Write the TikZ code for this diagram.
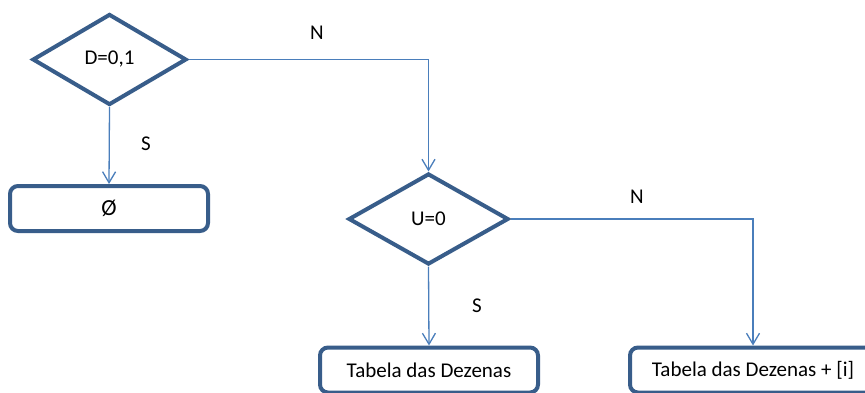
\documentclass[tikz,border=0pt]{standalone}
\usepackage{fontspec}
\setmainfont{Carlito}
\usetikzlibrary{shapes.geometric,arrows.meta}
\definecolor{shapeline}{HTML}{385D8A}
\definecolor{linkline}{HTML}{4A7EBB}
\begin{document}
\begin{tikzpicture}[x=1pt,y=-1pt,
  txt/.style={font=\fontsize{21}{25}\selectfont,text=black},
  decision/.style={txt,shape=diamond,draw=shapeline,line width=4pt,fill=white,
    inner sep=0pt,aspect=1.7},
  outbox/.style={txt,rectangle,rounded corners=8pt,draw=shapeline,line width=4pt,
    fill=white,minimum height=45pt,inner sep=0pt},
  link/.style={draw=linkline,line width=1.3pt,
    -{Straight Barb[length=11pt,width=13pt,line width=1.3pt]}},
  lbl/.style={txt,inner sep=0pt}]
\clip (0,0) rectangle (865,392);
\fill[white] (0,0) rectangle (865,392);

% decisions
\node[decision,minimum width=154pt,minimum height=91pt] (d1) at (109.5,59.5) {D=0,1};
\node[decision,minimum width=160pt,minimum height=91pt] (d2) at (428.5,219) {U=0};

% results
\node[outbox,minimum width=198pt] (empty) at (109,208.5) {\fontsize{23}{25}\selectfont Ø};
\node[outbox,minimum width=218pt] (tab) at (429,370) {Tabela das Dezenas};
\node[outbox,minimum width=246pt] (tabi) at (753,370) {Tabela das Dezenas + [i]};

% connectors
\draw[link] (d1.south) -- (empty.north);
\draw[link] (d1.east) -| (d2.north);
\draw[link] (d2.south) -- (tab.north);
\draw[link] (d2.east) -| (tabi.north);

% branch labels
\node[lbl] (s1) at (146,144) {S};
\node[lbl] (n1) at (317,33) {N};
\node[lbl] (s2) at (477,306) {S};
\node[lbl] (n2) at (637,197) {N};
\end{tikzpicture}
\end{document}
